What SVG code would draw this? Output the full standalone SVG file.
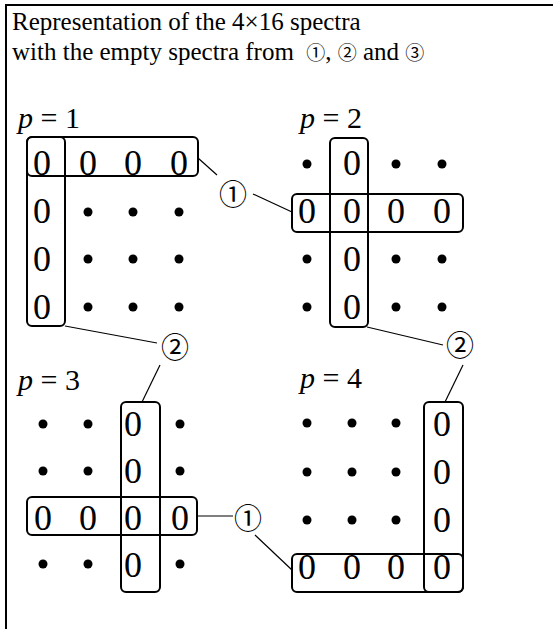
<svg xmlns="http://www.w3.org/2000/svg" width="553" height="629" viewBox="0 0 553 629">
<style>
.frame{fill:none;stroke:#000;stroke-width:2}
.t{font-family:"Liberation Serif","Noto Sans CJK JP",serif;font-size:25px;fill:#000}
.tc{font-family:"Noto Sans CJK JP",sans-serif;font-size:19px}
.p{font-family:"Liberation Serif",serif;font-size:30px;fill:#000}
.z{font-family:"Liberation Serif",serif;font-size:36px;fill:#000;text-anchor:middle}
.c{font-family:"Noto Sans CJK JP",sans-serif;font-size:28px;fill:#000;text-anchor:middle}
.box{fill:none;stroke:#000;stroke-width:2}
.ln{stroke:#000;stroke-width:1.2;fill:none}
</style>
<rect width="553" height="629" fill="#fff"/>
<path class="frame" d="M6 629 V5 H553"/>
<g id="title">
<text class="t" x="12" y="30">Representation of the 4×16 spectra</text>
<text class="t" x="12" y="60">with the empty spectra from <tspan class="tc" dx="6">①</tspan>, <tspan class="tc">②</tspan> and <tspan class="tc">③</tspan></text>
</g>
<g id="p1">
<text class="p" x="18" y="128"><tspan font-style="italic">p</tspan> = 1</text>
<g class="z">
<text x="42" y="175">0</text><text x="88" y="175">0</text><text x="133" y="175">0</text><text x="179" y="175">0</text>
<text x="42" y="223">0</text><text x="42" y="271">0</text><text x="42" y="319">0</text>
</g>
<g fill="#000">
<circle cx="88" cy="212" r="4.5"/><circle cx="133" cy="212" r="4.5"/><circle cx="179" cy="212" r="4.5"/>
<circle cx="88" cy="259" r="4.5"/><circle cx="133" cy="259" r="4.5"/><circle cx="179" cy="259" r="4.5"/>
<circle cx="88" cy="307" r="4.5"/><circle cx="133" cy="307" r="4.5"/><circle cx="179" cy="307" r="4.5"/>
</g>
<rect class="box" x="27" y="137" width="171" height="39" rx="5"/>
<rect class="box" x="27" y="137" width="38" height="189" rx="5"/>
</g>
<g id="p2">
<text class="p" x="300" y="128"><tspan font-style="italic">p</tspan> = 2</text>
<g class="z">
<text x="352" y="175">0</text>
<text x="307" y="223">0</text><text x="352" y="223">0</text><text x="396" y="223">0</text><text x="442" y="223">0</text>
<text x="352" y="271">0</text><text x="352" y="319">0</text>
</g>
<g fill="#000">
<circle cx="307" cy="164" r="4.5"/><circle cx="396" cy="164" r="4.5"/><circle cx="442" cy="164" r="4.5"/>
<circle cx="307" cy="259" r="4.5"/><circle cx="396" cy="259" r="4.5"/><circle cx="442" cy="259" r="4.5"/>
<circle cx="307" cy="307" r="4.5"/><circle cx="396" cy="307" r="4.5"/><circle cx="442" cy="307" r="4.5"/>
</g>
<rect class="box" x="292" y="194" width="171" height="38" rx="5"/>
<rect class="box" x="330" y="138" width="38" height="189" rx="5"/>
</g>
<g id="p3">
<text class="p" x="18" y="390"><tspan font-style="italic">p</tspan> = 3</text>
<g class="z">
<text x="133" y="436">0</text><text x="133" y="483">0</text>
<text x="43" y="530">0</text><text x="88" y="530">0</text><text x="133" y="530">0</text><text x="180" y="530">0</text>
<text x="133" y="577">0</text>
</g>
<g fill="#000">
<circle cx="43" cy="424" r="4.5"/><circle cx="88" cy="424" r="4.5"/><circle cx="180" cy="424" r="4.5"/>
<circle cx="43" cy="471" r="4.5"/><circle cx="88" cy="471" r="4.5"/><circle cx="180" cy="471" r="4.5"/>
<circle cx="43" cy="564" r="4.5"/><circle cx="88" cy="564" r="4.5"/><circle cx="180" cy="564" r="4.5"/>
</g>
<rect class="box" x="27" y="497" width="170" height="38" rx="5"/>
<rect class="box" x="121" y="402" width="39" height="190" rx="5"/>
</g>
<g id="p4">
<text class="p" x="300" y="388"><tspan font-style="italic">p</tspan> = 4</text>
<g class="z">
<text x="442" y="436">0</text><text x="442" y="484">0</text><text x="442" y="532">0</text>
<text x="307" y="579">0</text><text x="352" y="579">0</text><text x="396" y="579">0</text><text x="442" y="579">0</text>
</g>
<g fill="#000">
<circle cx="307" cy="423" r="4.5"/><circle cx="352" cy="423" r="4.5"/><circle cx="396" cy="423" r="4.5"/>
<circle cx="307" cy="472" r="4.5"/><circle cx="352" cy="472" r="4.5"/><circle cx="396" cy="472" r="4.5"/>
<circle cx="307" cy="520" r="4.5"/><circle cx="352" cy="520" r="4.5"/><circle cx="396" cy="520" r="4.5"/>
</g>
<rect class="box" x="292" y="554" width="171" height="38" rx="5"/>
<rect class="box" x="424" y="402" width="39" height="190" rx="5"/>
</g>
<g id="labels">
<text class="c" x="233" y="205">①</text>
<text class="c" x="175" y="358">②</text>
<text class="c" x="460" y="356">②</text>
<text class="c" x="248" y="529">①</text>
</g>
<g id="connectors">
<line class="ln" x1="198" y1="158" x2="217" y2="175"/>
<line class="ln" x1="253" y1="194" x2="292" y2="212"/>
<line class="ln" x1="65" y1="326" x2="157" y2="343"/>
<line class="ln" x1="160" y1="365" x2="142" y2="402"/>
<line class="ln" x1="367" y1="327" x2="443" y2="345"/>
<line class="ln" x1="463" y1="365" x2="445" y2="402"/>
<line class="ln" x1="197" y1="516" x2="233" y2="516"/>
<line class="ln" x1="255" y1="535" x2="292" y2="570"/>
</g>
</svg>
